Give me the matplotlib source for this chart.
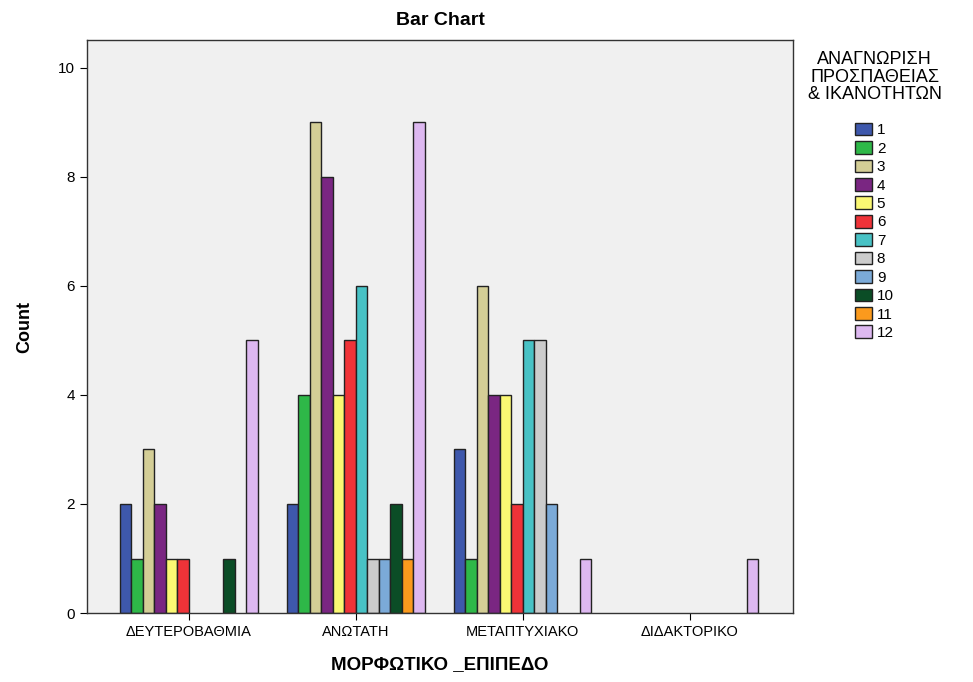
import matplotlib.pyplot as plt
import numpy as np

plt.rcParams['font.family'] = ['Liberation Sans', 'DejaVu Sans']

categories = ['ΔΕΥΤΕΡΟΒΑΘΜΙΑ', 'ΑΝΩΤΑΤΗ', 'ΜΕΤΑΠΤΥΧΙΑΚΟ', 'ΔΙΔΑΚΤΟΡΙΚΟ']
levels = ['1', '2', '3', '4', '5', '6', '7', '8', '9', '10', '11', '12']

# counts per level (rows) for each category (columns)
counts = [
    [2, 2, 3, 0],
    [1, 4, 1, 0],
    [3, 9, 6, 0],
    [2, 8, 4, 0],
    [1, 4, 4, 0],
    [1, 5, 2, 0],
    [0, 6, 5, 0],
    [0, 1, 5, 0],
    [0, 1, 2, 0],
    [1, 2, 0, 0],
    [0, 1, 0, 0],
    [5, 9, 1, 1],
]

colors = ['#3E58AC', '#2EB848', '#D4CE96', '#7A2682', '#FBF873', '#EF3338',
          '#48C2C5', '#CCCCCC', '#7BAAD8', '#0B4D26', '#FB9A1D', '#DDB8F0']

fig = plt.figure(figsize=(9.73, 6.82), dpi=100)
ax = fig.add_axes([0.0894, 0.101, 0.7256, 0.840])
ax.set_facecolor('#F0F0F0')

x = np.arange(len(categories))
w = 0.0687
for i, lev in enumerate(levels):
    vals = np.array(counts[i])
    pos = x + (i - 5.5) * w
    keep = vals > 0  # empty cells draw nothing
    ax.bar(pos[keep], vals[keep], width=w, color=colors[i], edgecolor='#222222',
           linewidth=1.0, label=lev)

ax.set_xlim(-0.61, 3.62)
ax.set_ylim(0, 10.5)
ax.set_yticks([0, 2, 4, 6, 8, 10])
ax.set_xticks(x)
ax.set_xticklabels(categories, fontsize=10.5)
ax.tick_params(axis='y', labelsize=11, length=5, direction='out')
ax.tick_params(axis='x', length=5, direction='out')
for s in ax.spines.values():
    s.set_color('#333333')
    s.set_linewidth(1.0)

ax.set_ylabel('Count', fontsize=13, fontweight='bold', labelpad=18)
ax.set_xlabel('ΜΟΡΦΩΤΙΚΟ _ΕΠΙΠΕΔΟ', fontsize=13.5, fontweight='bold', labelpad=12)
ax.set_title('Bar Chart', fontsize=14, fontweight='bold', pad=11)

leg = ax.legend(title='ΑΝΑΓΝΩΡΙΣΗ\nΠΡΟΣΠΑΘΕΙΑΣ\n& ΙΚΑΝΟΤΗΤΩΝ', loc='upper left',
                bbox_to_anchor=(1.012, 0.992), frameon=False, fontsize=11,
                title_fontsize=13, handlelength=1.1, handleheight=0.9,
                handletextpad=0.3, labelspacing=0.25, borderaxespad=0)
leg.get_title().set_multialignment('center')
leg.get_title().set_linespacing(1.05)
leg._legend_box.align = 'center'
leg._legend_box.sep = 14

plt.savefig('out.png', dpi=100)
